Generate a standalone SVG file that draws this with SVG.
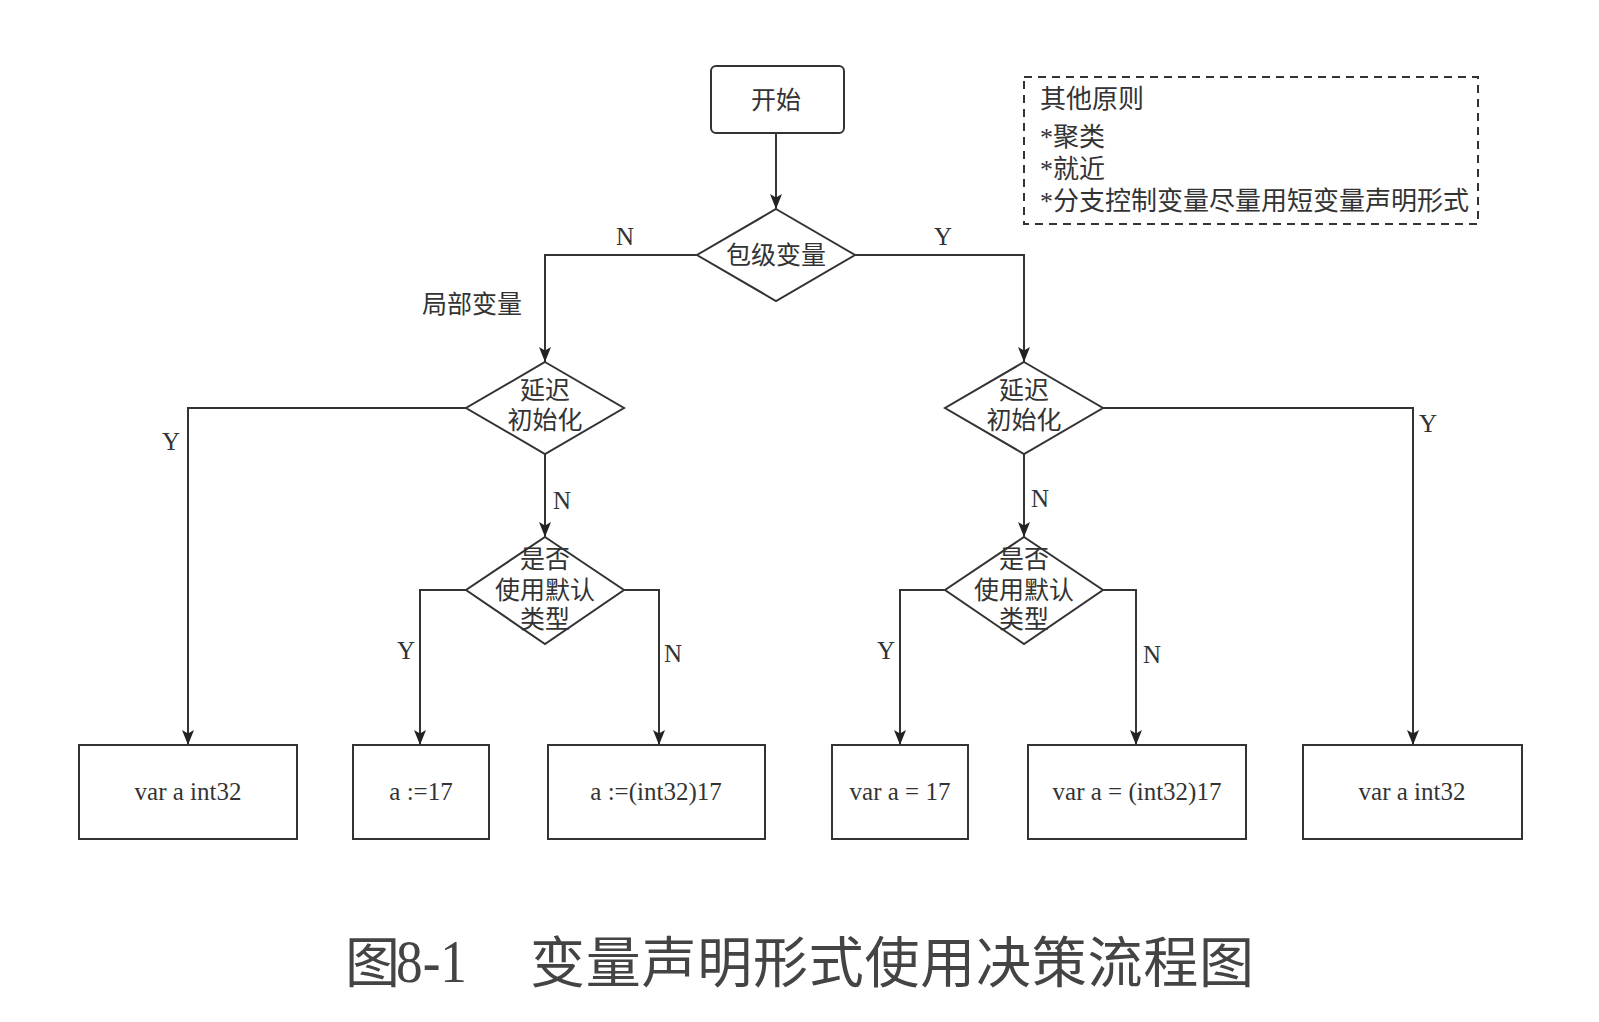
<svg xmlns="http://www.w3.org/2000/svg" width="1599" height="1022" viewBox="0 0 1599 1022">
<style>
.shape{fill:#fff;stroke:#333;stroke-width:2}
.edge{fill:none;stroke:#333;stroke-width:2}
.t{font-family:"Liberation Serif","Noto Sans CJK SC",serif;font-size:25px;fill:#333}
.m{text-anchor:middle}
.note{font-size:26px}
.lbl{font-family:"Liberation Serif","Noto Sans CJK SC",serif;font-size:25px;fill:#333;text-anchor:middle}
.title{font-family:"Noto Sans CJK SC",sans-serif;font-size:55px;fill:#444}
.num{font-family:"Liberation Serif","Times New Roman",serif;font-size:62px;fill:#444}
</style>
<defs>
<marker id="arr" markerUnits="userSpaceOnUse" markerWidth="16" markerHeight="16" viewBox="0 0 16 16" refX="15" refY="8" orient="auto">
<path d="M0,2 L15,8 L0,14 L3.5,8 Z" fill="#222"/>
</marker>
</defs>
<rect width="1599" height="1022" fill="#fff"/>

<g id="connectors">
<path class="edge" d="M776 134 V209" marker-end="url(#arr)"/>
<path class="edge" d="M697 255 H545 V362" marker-end="url(#arr)"/>
<path class="edge" d="M855 255 H1024 V362" marker-end="url(#arr)"/>
<path class="edge" d="M466 408 H188 V745" marker-end="url(#arr)"/>
<path class="edge" d="M545 454 V537" marker-end="url(#arr)"/>
<path class="edge" d="M1103 408 H1413 V745" marker-end="url(#arr)"/>
<path class="edge" d="M1024 454 V537" marker-end="url(#arr)"/>
<path class="edge" d="M466 590 H420 V745" marker-end="url(#arr)"/>
<path class="edge" d="M624 590 H659 V745" marker-end="url(#arr)"/>
<path class="edge" d="M945 590 H900 V745" marker-end="url(#arr)"/>
<path class="edge" d="M1103 590 H1136 V745" marker-end="url(#arr)"/>
<text class="lbl" x="625" y="245">N</text>
<text class="lbl" x="943" y="245">Y</text>
<text class="t" x="422" y="313">局部变量</text>
<text class="lbl" x="171" y="450">Y</text>
<text class="lbl" x="1428" y="432">Y</text>
<text class="lbl" x="562" y="509">N</text>
<text class="lbl" x="1040" y="507">N</text>
<text class="lbl" x="406" y="659">Y</text>
<text class="lbl" x="673" y="662">N</text>
<text class="lbl" x="886" y="659">Y</text>
<text class="lbl" x="1152" y="663">N</text>
</g>

<g id="start">
<rect class="shape" x="711" y="66" width="133" height="67" rx="5"/>
<text class="t m" x="776" y="109">开始</text>
</g>

<g id="pkgvar">
<polygon class="shape" points="776,209 855,255 776,301 697,255"/>
<text class="t m" x="776" y="264">包级变量</text>
</g>

<g id="lazy-left">
<polygon class="shape" points="545,362 624,408 545,454 466,408"/>
<text class="t m" x="545" y="399">延迟</text>
<text class="t m" x="545" y="429">初始化</text>
</g>

<g id="lazy-right">
<polygon class="shape" points="1024,362 1103,408 1024,454 945,408"/>
<text class="t m" x="1024" y="399">延迟</text>
<text class="t m" x="1024" y="429">初始化</text>
</g>

<g id="default-left">
<polygon class="shape" points="545,537 624,590 545,644 466,590"/>
<text class="t m" x="545" y="568">是否</text>
<text class="t m" x="545" y="599">使用默认</text>
<text class="t m" x="545" y="628">类型</text>
</g>

<g id="default-right">
<polygon class="shape" points="1024,537 1103,590 1024,644 945,590"/>
<text class="t m" x="1024" y="568">是否</text>
<text class="t m" x="1024" y="599">使用默认</text>
<text class="t m" x="1024" y="628">类型</text>
</g>

<g id="box1">
<rect class="shape" x="79" y="745" width="218" height="94"/>
<text class="t m" x="188" y="800">var a int32</text>
</g>
<g id="box2">
<rect class="shape" x="353" y="745" width="136" height="94"/>
<text class="t m" x="421" y="800">a :=17</text>
</g>
<g id="box3">
<rect class="shape" x="548" y="745" width="217" height="94"/>
<text class="t m" x="656" y="800">a :=(int32)17</text>
</g>
<g id="box4">
<rect class="shape" x="832" y="745" width="136" height="94"/>
<text class="t m" x="900" y="800">var a = 17</text>
</g>
<g id="box5">
<rect class="shape" x="1028" y="745" width="218" height="94"/>
<text class="t m" x="1137" y="800">var a = (int32)17</text>
</g>
<g id="box6">
<rect class="shape" x="1303" y="745" width="219" height="94"/>
<text class="t m" x="1412" y="800">var a int32</text>
</g>

<g id="note">
<rect x="1024" y="77" width="454" height="147" fill="none" stroke="#333" stroke-width="2" stroke-dasharray="8,6"/>
<text class="t note" x="1040" y="108">其他原则</text>
<text class="t note" x="1040" y="146">*聚类</text>
<text class="t note" x="1040" y="178">*就近</text>
<text class="t note" x="1040" y="210">*分支控制变量尽量用短变量声明形式</text>
</g>

<g id="caption">
<text class="title" x="345" y="982">图</text>
<text class="num" x="396" y="982" textLength="71" lengthAdjust="spacingAndGlyphs">8-1</text>
<text class="title" x="530" y="982" textLength="724">变量声明形式使用决策流程图</text>
</g>
</svg>
